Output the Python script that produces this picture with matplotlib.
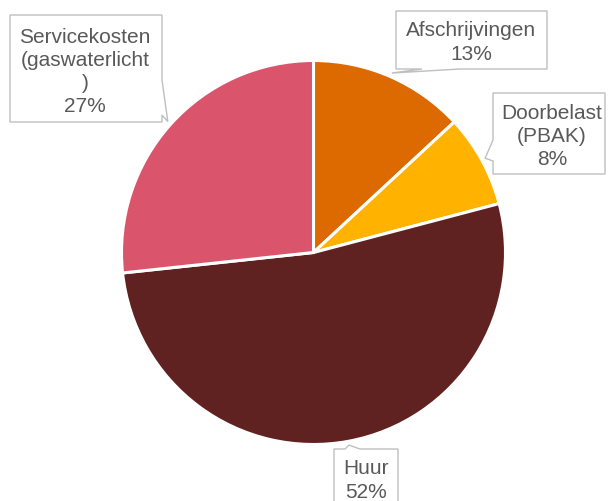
import numpy as np
import matplotlib
matplotlib.use("Agg")
import matplotlib.pyplot as plt
from matplotlib.patches import Polygon

plt.rcParams['font.family'] = ['Liberation Sans', 'DejaVu Sans']

# --- Data ---
labels = ['Afschrijvingen', 'Doorbelast\n(PBAK)', 'Huur', 'Servicekosten\n(gaswaterlicht\n)']
values = [13.1, 7.8, 52.4, 26.7]
colors = ['#DC6A00', '#FFB300', '#602221', '#DA546B']

# --- Layout (pixel coords, y measured from top) ---
W, H = 608, 501
center = (313.5, 252.5)
radius = 192
# box (x0, y0, x1, y1), pointer side, pointer base span, text centre
boxes = [
    ((396, 11, 547, 69), 'bottom', (422, 460), (471, 42.5)),
    ((493, 93, 605, 174), 'left', (140, 161), (552, 136.7)),
    ((334, 449, 398, 515), 'top', (345, 360), (366, 480.5)),
    ((10, 15, 162, 122), 'right', (80, 115), (85, 72)),
]

fig = plt.figure(figsize=(W / 100, H / 100), dpi=100)
ax = fig.add_axes([0, 0, 1, 1])

wedges, _ = ax.pie(values, colors=colors, startangle=90, counterclock=False,
                   center=(center[0], H - center[1]), radius=radius,
                   wedgeprops=dict(edgecolor='white', linewidth=2.2))
ax.set_xlim(0, W)
ax.set_ylim(0, H)
ax.axis('off')


def callout_poly(box, side, base, tip):
    x0, y0, x1, y1 = box
    a, b = base
    pts = [(x0, y0)]
    if side == 'top':
        pts += [(a, y0), tip, (b, y0)]
    pts += [(x1, y0)]
    if side == 'right':
        pts += [(x1, a), tip, (x1, b)]
    pts += [(x1, y1)]
    if side == 'bottom':
        pts += [(b, y1), tip, (a, y1)]
    pts += [(x0, y1)]
    if side == 'left':
        pts += [(x0, b), tip, (x0, a)]
    return [(x, H - y) for x, y in pts]


for w, lab, val, (box, side, base, tpos) in zip(wedges, labels, values, boxes):
    ang = np.deg2rad((w.theta1 + w.theta2) / 2)
    tx = w.center[0] + w.r * 1.02 * np.cos(ang)
    ty = w.center[1] + w.r * 1.02 * np.sin(ang)
    tip = (tx, H - ty)
    poly = Polygon(callout_poly(box, side, base, tip), closed=True,
                   facecolor='white', edgecolor='#BFBFBF', linewidth=1.0,
                   joinstyle='miter', zorder=3)
    ax.add_patch(poly)
    ax.text(tpos[0], H - tpos[1], f"{lab}\n{round(val)}%", ha='center', va='center',
            fontsize=15, color='#595959', linespacing=1.27, zorder=4)

fig.savefig('out.png', dpi=100)
